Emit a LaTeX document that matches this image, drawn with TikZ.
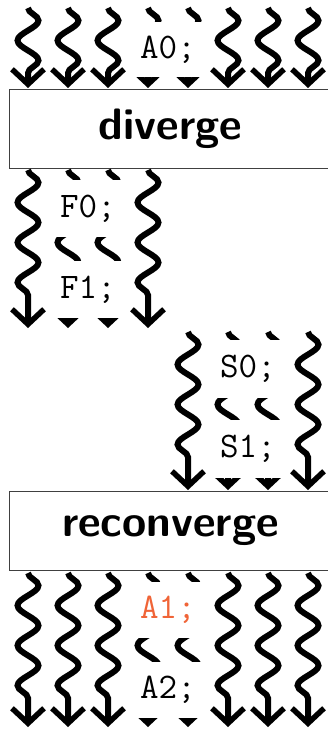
\documentclass[tikz,border=0pt]{standalone}
\usetikzlibrary{decorations.pathmorphing,arrows.meta}
\definecolor{aone}{RGB}{240,100,55}
\begin{document}
\begin{tikzpicture}[x=1pt,y=-1pt,
  thread/.style={line width=6pt, -{Straight Barb[length=15pt,width=32pt,line width=5.5pt]}, decorate,
    decoration={snake, segment length=40pt, amplitude=10.5pt, post length=15pt}},
  cover/.style={fill=white, inner sep=0pt, minimum width=80pt, minimum height=56pt,
    font=\fontsize{36}{38}\selectfont\ttfamily},
  kernel/.style={draw=black!75, line width=1pt, fill=white, minimum width=322pt,
    minimum height=79pt, anchor=north west, font=\fontsize{44}{46}\selectfont\sffamily\bfseries}]
\useasboundingbox (0,0) rectangle (328,730);
% top section
\foreach \i in {0,...,7}{
  \coordinate (a\i s) at (28+40*\i,8);
  \coordinate (a\i e) at (28+40*\i,88);
  \draw[thread] (a\i s) -- (a\i e);
}
\node[cover, minimum height=55pt] (A0) at (168,50) {A0;};
\node[kernel] (div) at (9,89) {diverge};
% F section
\foreach \i in {0,...,3}{
  \coordinate (f\i s) at (28+40*\i,170);
  \coordinate (f\i e) at (28+40*\i,328);
  \draw[thread] (f\i s) -- (f\i e);
}
\node[cover, minimum height=57pt] (F0) at (88,208.5) {F0;};
\node[cover, minimum height=57pt] (F1) at (88,289.5) {F1;};
% S section
\foreach \i in {4,...,7}{
  \coordinate (s\i s) at (28+40*\i,332);
  \coordinate (s\i e) at (28+40*\i,490);
  \draw[thread] (s\i s) -- (s\i e);
}
\node[cover, minimum height=58pt] (S0) at (248,369) {S0;};
\node[cover, minimum height=58pt] (S1) at (248,449) {S1;};
\node[kernel] (rec) at (9,491) {reconverge};
% bottom section
\foreach \i in {0,...,7}{
  \coordinate (b\i s) at (28+40*\i,573);
  \coordinate (b\i e) at (28+40*\i,727);
  \draw[thread] (b\i s) -- (b\i e);
}
\node[cover, text=aone] (A1) at (168,610) {A1;};
\node[cover] (A2) at (168,690) {A2;};
\end{tikzpicture}
\end{document}
